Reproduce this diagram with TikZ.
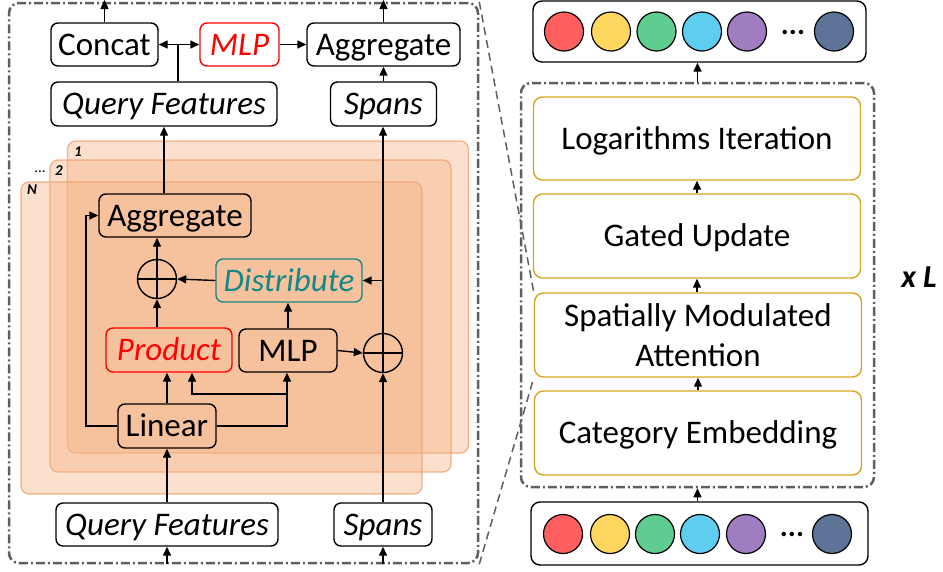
\documentclass[tikz,border=0pt]{standalone}
\usepackage{fontspec}
\setmainfont{Carlito}
\usetikzlibrary{arrows.meta,calc}
\definecolor{gr}{RGB}{95,95,95}
\definecolor{lay}{RGB}{244,177,131}
\definecolor{layd}{RGB}{240,160,110}
\definecolor{tealc}{RGB}{20,135,135}
\definecolor{gold}{RGB}{218,165,32}
\definecolor{cRed}{RGB}{255,95,95}
\definecolor{cYel}{RGB}{255,215,95}
\definecolor{cGrn}{RGB}{95,205,143}
\definecolor{cCyn}{RGB}{95,205,240}
\definecolor{cPur}{RGB}{160,125,192}
\definecolor{cBlu}{RGB}{93,115,152}
\newcommand\bigf{\fontsize{33}{40}\selectfont}
\newcommand\smallf{\fontsize{15}{15}\selectfont}
\begin{document}
\begin{tikzpicture}[x=1pt,y=-1pt,
 box/.style={draw=black, line width=1.4pt, rounded corners=7pt, inner sep=0pt, font=\bigf, text height=21pt, text depth=0pt},
 ibox/.style={box, font=\bigf\itshape},
 redbox/.style={box, draw=red, text=red, font=\bigf\itshape},
 tealbox/.style={box, draw=tealc, text=tealc, font=\bigf\itshape},
 arr/.style={line width=1.4pt, -{Triangle[length=9pt,width=8pt]}},
 ln/.style={line width=1.4pt},
 panel/.style={draw=gr, line width=2.5pt, rounded corners=10pt, dash pattern=on 9pt off 3pt on 2pt off 3pt, inner sep=0pt},
 layer/.style={fill=lay, fill opacity=0.4, draw=layd, draw opacity=0.8, line width=1.2pt, rounded corners=8pt, inner sep=0pt, minimum width=401pt, minimum height=312pt},
 gbox/.style={draw=gold, line width=1.4pt, rounded corners=9pt, inner sep=0pt, font=\bigf, minimum width=327pt, minimum height=84pt},
 gboxt/.style={gbox, text height=21pt, text depth=0pt},
 tok/.style={circle, draw=black, line width=1.2pt, minimum size=39pt, inner sep=0pt},
 seq/.style={draw=black, line width=1.4pt, rounded corners=9pt, inner sep=0pt, fill=white},
 oplus/.style={circle, draw=black, line width=1.4pt, minimum size=39pt, inner sep=0pt,
   path picture={\draw[line width=1.4pt] (path picture bounding box.north) -- (path picture bounding box.south) (path picture bounding box.west) -- (path picture bounding box.east);}},
 lab/.style={font=\smallf\bfseries\itshape, inner sep=0pt},
 dashl/.style={draw=gr, line width=1.5pt, dash pattern=on 8pt off 5pt}
]
\useasboundingbox (0,0) rectangle (943,571);

% ---------- left panel ----------
\node[panel, minimum width=469pt, minimum height=560pt] (lp) at (243.5,283) {};

\node[layer] (L1) at (268,297) {};
\node[layer] (L2) at (250.5,316) {};
\node[layer] (LN) at (221.5,338) {};
\node[lab] (l1) at (78,152) {1};
\node[lab] (l2) at (59,171) {2};
\node[lab] (lN) at (32,190) {N};
\node[font=\smallf, inner sep=0pt] (ld) at (40,172) {...};

\node[box, minimum width=107pt, minimum height=43pt] (concat) at (104.5,44.5) {Concat};
\node[redbox, minimum width=79pt, minimum height=43pt] (mlpt) at (239.5,44.5) {MLP};
\node[box, minimum width=153pt, minimum height=43pt] (aggt) at (383.5,44.5) {Aggregate};
\node[ibox, minimum width=226pt, minimum height=44pt] (qft) at (164,104) {Query Features};
\node[ibox, minimum width=106pt, minimum height=44pt] (spt) at (383.5,104) {Spans};

\node[box, minimum width=152pt, minimum height=43pt] (agg) at (175,215.5) {Aggregate};
\node[tealbox, minimum width=146pt, minimum height=43pt] (dist) at (289,280.5) {Distribute};
\node[redbox, minimum width=126pt, minimum height=44pt] (prod) at (169,350) {Product};
\node[box, minimum width=98pt, minimum height=43pt] (mlp) at (288,350.5) {MLP};
\node[box, minimum width=98pt, minimum height=44pt] (lin) at (167,426) {Linear};
\node[ibox, minimum width=222pt, minimum height=43pt] (qfb) at (167,524.5) {Query Features};
\node[ibox, minimum width=98pt, minimum height=43pt] (spb) at (383,524.5) {Spans};
\node[oplus] (o1) at (157,279) {};
\node[oplus] (o2) at (383,353) {};

\coordinate (top) at (0,0);
\coordinate (bot) at (0,564);
\coordinate (jn) at (178,44.5);
\coordinate (lft) at (86,0);
\coordinate (br) at (287,394);
\coordinate (pin) at (192,394);

% connectors
\draw[arr] (concat.north) -- (concat.north |- top);
\draw[arr] (aggt.north) -- (aggt.north |- top);
\draw[ln] (jn |- qft.north) -- (jn);
\draw[arr] (jn) -- (concat.east);
\draw[arr] (jn) -- (mlpt.west);
\draw[arr] (mlpt.east) -- (aggt.west);
\draw[arr] (spt.north) -- (spt.north |- aggt.south);
\draw[arr] (qft.south |- agg.north) -- (qft.south);
\draw[arr] (o2.north) -- (o2.north |- spt.south);
\draw[arr] (o2.north |- dist.east) -- (dist.east);
\draw[arr] (dist.west) -- (o1.east);
\draw[arr] (o1.north) -- (o1.north |- agg.south);
\draw[arr] (o1.south |- prod.north) -- (o1.south);
\draw[arr] (mlp.north) -- (mlp.north |- dist.south);
\draw[arr] (mlp.east) -- (o2.west);
\draw[arr] (spb.north) -- (o2.south);
\draw[arr] (lin.north) -- (lin.north |- prod.south);
\draw[arr] (lin.east) -- (br |- lin.east) -- (br |- mlp.south);
\draw[arr] (br) -- (pin) -- (pin |- prod.south);
\draw[arr] (lin.west) -- (lft |- lin.west) -- (lft |- agg.west) -- (agg.west);
\draw[arr] (lin.south |- qfb.north) -- (lin.south);
\draw[arr] (qfb.south |- bot) -- (qfb.south);
\draw[arr] (spb.south |- bot) -- (spb.south);

% ---------- right panel ----------
\node[seq, minimum width=333pt, minimum height=61pt] (outb) at (699.5,31.5) {};
\node[tok, fill=cRed] (a1) at (564,31.5) {};
\node[tok, fill=cYel] (a2) at (611,31.5) {};
\node[tok, fill=cGrn] (a3) at (656.5,31.5) {};
\node[tok, fill=cCyn] (a4) at (702,31.5) {};
\node[tok, fill=cPur] (a5) at (747,31.5) {};
\node[font=\fontsize{30}{30}\selectfont\bfseries, anchor=base, inner sep=0pt] (ad) at (793,34) {...};
\node[tok, fill=cBlu] (a6) at (834,31.5) {};

\node[panel, minimum width=353pt, minimum height=404pt] (rp) at (697.5,285) {};
\node[gboxt, minimum height=83pt] (log) at (697,138.5) {Logarithms Iteration};
\node[gboxt] (gate) at (697,236) {Gated Update};
\node[gbox, align=center] (sma) at (698,335) {Spatially Modulated\\Attention};
\node[gboxt] (cat) at (698,433) {Category Embedding};

\node[seq, minimum width=337pt, minimum height=63pt] (inb) at (699.5,533.5) {};
\node[tok, fill=cRed] (b1) at (563,534) {};
\node[tok, fill=cYel] (b2) at (610,534) {};
\node[tok, fill=cGrn] (b3) at (655,534) {};
\node[tok, fill=cCyn] (b4) at (700,534) {};
\node[tok, fill=cPur] (b5) at (746,534) {};
\node[font=\fontsize{30}{30}\selectfont\bfseries, anchor=base, inner sep=0pt] (bd) at (792,536.5) {...};
\node[tok, fill=cBlu] (b6) at (832,534) {};

\draw[arr] (rp.north) -- (rp.north |- outb.south);
\draw[arr] (log.south |- gate.north) -- (log.south);
\draw[arr] (gate.south |- sma.north) -- (gate.south);
\draw[arr] (sma.south |- cat.north) -- (sma.south);
\draw[arr] (rp.south |- inb.north) -- (rp.south);

\node[font=\fontsize{32}{32}\selectfont\bfseries\itshape, inner sep=0pt] (xl) at (919,277) {x L};

\draw[dashl] (lp.north east) -- (sma.north west);
\draw[dashl] (lp.south east) -- (sma.south west);
\end{tikzpicture}
\end{document}
